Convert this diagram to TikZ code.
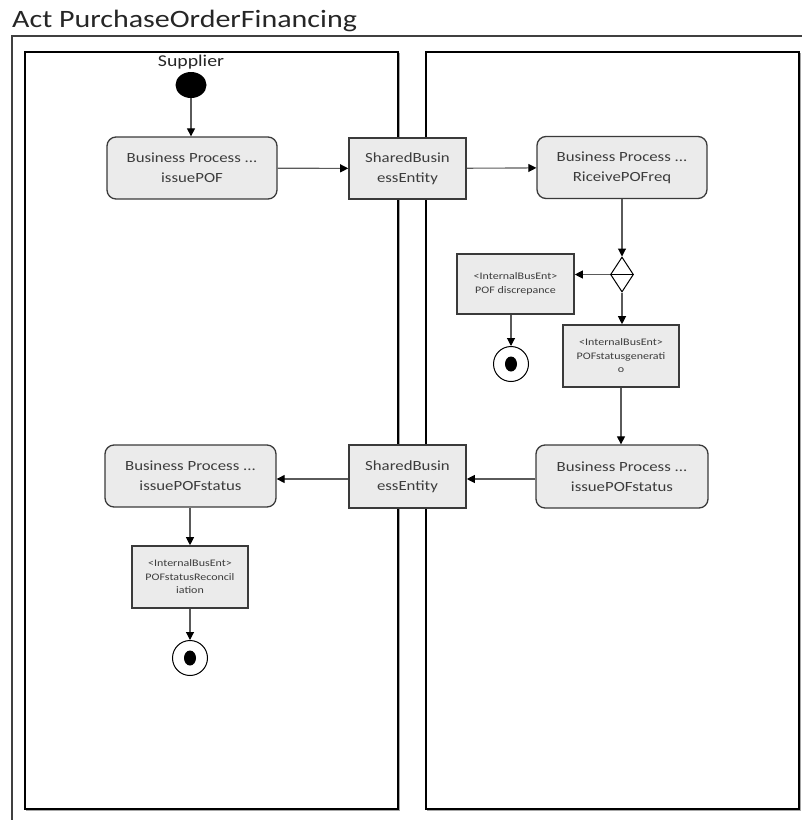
\documentclass[tikz,border=0pt]{standalone}
\usepackage{fontspec}
\setmainfont{Carlito}[FakeStretch=1.2]
\usetikzlibrary{arrows.meta,shapes.geometric}
\definecolor{boxfill}{HTML}{EBEBEB}
\definecolor{boxline}{HTML}{3A3A3A}
\definecolor{flowline}{HTML}{5A5A5A}
\definecolor{txt}{HTML}{3C3C3C}
\definecolor{frameline}{HTML}{404040}

\begin{document}
\begin{tikzpicture}[x=1pt,y=-1pt,
  lane/.style={draw=black, line width=1.3pt},
  laneshadow/.style={draw=gray!70, line width=1.2pt},
  process/.style={draw=boxline, fill=boxfill, rounded corners=9pt, line width=1.3pt,
    minimum width=170pt, minimum height=62pt, inner sep=0pt, align=center,
    font=\fontsize{14}{20}\selectfont, text=txt},
  entity/.style={draw=boxline, fill=boxfill, line width=1.6pt,
    minimum width=117pt, minimum height=61pt, inner sep=0pt, align=center,
    font=\fontsize{14}{20}\selectfont, text=txt},
  internal/.style={draw=boxline, fill=boxfill, line width=1.6pt,
    minimum width=116pt, minimum height=61pt, inner sep=0pt, align=center,
    font=\fontsize{10}{13.5}\selectfont, text=txt},
  finalnode/.style={circle, draw=black, line width=1pt, minimum size=35pt, inner sep=0pt},
  flow/.style={draw=flowline, line width=1.1pt,
    -{Triangle[length=8pt,width=8pt,color=black]}},
]
\useasboundingbox (0,0) rectangle (802,820);

% activity frame and title
\draw[frameline, line width=1.4pt] (12,820) -- (12,36) -- (802,36);
\node[anchor=base west, inner sep=0pt, text=black!85, font=\fontsize{25}{30}\selectfont]
  (title) at (12,27) {Act PurchaseOrderFinancing};

% partitions
\draw[laneshadow] (399.5,53) -- (399.5,810.5) -- (26,810.5);
\draw[laneshadow] (800.5,53) -- (800.5,810.5) -- (427,810.5);
\draw[lane] (25,52) rectangle (398,809);
\draw[lane] (426,52) rectangle (799,809);

% supplier start
\node[inner sep=0pt, text=black!85, font=\fontsize{16.5}{20}\selectfont] (suplabel) at (191,62) {Supplier};
\node[ellipse, fill=black, minimum width=31pt, minimum height=26pt, inner sep=0pt] (init) at (191,85) {};

% actions and objects
\node[process] (pof) at (192,168) {Business Process ...\\issuePOF};
\node[entity] (shared1) at (407.5,168.5) {SharedBusin\\essEntity};
\node[process] (riceive) at (622,167.5) {Business Process ...\\RiceivePOFreq};
\node[diamond, draw=black, line width=1pt, minimum width=23pt, minimum height=35pt,
  inner sep=0pt, aspect=0.66] (dec) at (622,274.5) {};
\draw[black, line width=0.8pt] (dec.west) -- (dec.east);
\node[internal, minimum width=117pt, minimum height=60pt] (disc) at (515.5,284)
  {<InternalBusEnt>\\POF discrepance};
\node[finalnode] (end1) at (511,364) {};
\fill (end1.center) ellipse [x radius=6pt, y radius=7.5pt];
\node[internal, minimum height=62pt] (gen) at (621,356)
  {<InternalBusEnt>\\POFstatusgenerati\\o};
\node[process, minimum width=172pt, minimum height=63pt] (statusR) at (622,476.5)
  {Business Process ...\\issuePOFstatus};
\node[entity, minimum height=63pt] (shared2) at (407.5,476.5) {SharedBusin\\essEntity};
\node[process, minimum width=171pt] (statusL) at (190.5,476)
  {Business Process ...\\issuePOFstatus};
\node[internal, minimum height=62pt] (recon) at (190,577)
  {<InternalBusEnt>\\POFstatusReconcil\\iation};
\node[finalnode] (end2) at (190,658) {};
\fill (end2.center) ellipse [x radius=6pt, y radius=7.5pt];

% control and object flows
\draw[flow] (init.south) -- (init.south |- pof.north);
\draw[flow] (pof) -- (shared1);
\draw[flow] (shared1) -- (riceive);
\draw[flow] (riceive.south) -- (dec.north);
\draw[flow] (dec.west) -- (dec.west -| disc.east);
\draw[flow] (dec.south) -- (dec.south |- gen.north);
\draw[flow] (end1.north |- disc.south) -- (end1.north);
\draw[flow] (gen.south) -- (gen.south |- statusR.north);
\draw[flow] (statusR.west |- 0,479) -- (shared2.east |- 0,479);
\draw[flow] (shared2.west |- 0,479) -- (statusL.east |- 0,479);
\draw[flow] (statusL.south -| recon.north) -- (recon.north);
\draw[flow] (recon.south) -- (end2.north);
\end{tikzpicture}
\end{document}
